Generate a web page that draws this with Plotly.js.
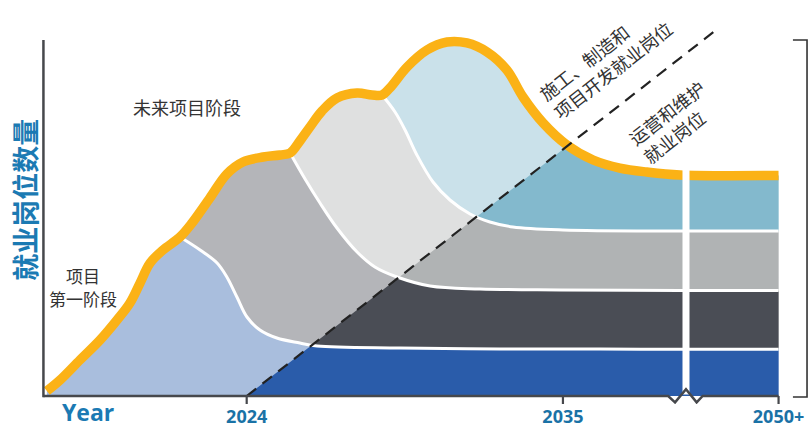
<!DOCTYPE html>
<html><head><meta charset="utf-8">
<script src="https://cdn.plot.ly/plotly-3.0.1.min.js"></script>
<style>html,body{margin:0;padding:0;background:#fff;} #chart{width:812px;height:428px;}</style>
</head><body><div id="chart"></div>
<script>
// ---- data (x = year, y = relative job count) ----
const phase1X = [2017.05,2017.51,2018.20,2018.90,2019.49,2019.94,2020.29,2020.64,2021.09,2021.68,2022.38,2022.97,2023.31,2023.66,2024.01,2024.46,2025.05,2025.85,2026.45,2029.33,2032.81,2036.29,2039.07,2042.5];
const phase1Top = [1.40,4.49,10.11,15.73,21.35,26.12,31.74,37.36,41.01,44.66,41.01,37.36,33.43,27.81,22.19,18.54,16.29,14.89,14.04,13.48,13.2,13.2,13.1,13.1];
const phase2X = [2021.68,2022.10,2022.72,2023.31,2023.87,2024.57,2025.16,2025.51,2026.03,2026.55,2027.14,2027.84,2028.46,2029.23,2030.38,2032.11,2034.90,2039.07,2042.5];
const phase2Top = [44.66,48.60,55.62,62.36,65.73,67.13,67.70,68.26,60.96,54.21,47.19,40.45,36.24,33.43,30.90,30.06,29.78,29.63,29.63];
const phase3X = [2025.51,2025.85,2026.20,2026.62,2027.14,2027.84,2028.36,2028.71,2029.16,2029.51,2029.92,2030.48,2031.07,2031.77,2032.46,2033.26,2035.00,2039.07,2042.5];
const phase3Top = [68.26,71.63,75.56,80.06,83.71,85.11,84.55,84.55,79.78,74.72,67.70,60.11,55.06,51.12,48.88,47.47,46.63,46.35,46.35];
const phase4X = [2028.71,2028.98,2029.58,2030.27,2030.97,2031.66,2032.36,2033.05,2033.61,2034.31,2035.14,2036.05,2036.98,2037.92,2039.07,2042.5];
const phase4Top = [84.55,86.52,92.42,97.19,99.44,99.16,96.63,91.57,83.99,76.69,70.51,66.29,64.04,62.92,62.08,61.94];
// dashed split between construction jobs and O&M jobs
const splitX = [2024, 2040.23];
const splitY = [0, 102.2];
// axis
const xTickVals = [2024, 2035, 2042.5];
const xTickText = ['2024', '2035', '2050+'];
const axisStartX = 2016.93;
const axisEndX = 2042.5;
const axisTopY = 100;
const breakX = [2038.66, 2038.90, 2039.28, 2039.65, 2039.86];
const breakY = [0, -1.8, 1.88, -1.8, 0];

// ---- colours ----
const lightCol = ['#a9bedd', '#b4b5b9', '#dfe0e0', '#cae1ea'];
const darkCol  = ['#2a5caa', '#4a4d55', '#b0b3b4', '#83b9cd'];
const orange = '#fbb216';
const axisCol = '#46484c';
const blueText = '#1b7ab3';

// ---- helpers ----
function diagAt(x){ return splitY[0] + (x - splitX[0]) * (splitY[1]-splitY[0]) / (splitX[1]-splitX[0]); }
function crossing(xs, ys){
  for (let i = 0; i < xs.length - 1; i++){
    if (xs[i+1] <= splitX[0]) continue;
    const d0 = ys[i] - diagAt(xs[i]), d1 = ys[i+1] - diagAt(xs[i+1]);
    if (d0 >= 0 && d1 < 0){
      const t = d0 / (d0 - d1);
      return {x: xs[i] + t*(xs[i+1]-xs[i]), y: ys[i] + t*(ys[i+1]-ys[i])};
    }
  }
  return null;
}
function sliceFrom(xs, ys, x0){
  const ox = [], oy = [];
  xs.forEach((x, i) => { if (x >= x0 - 1e-9){ ox.push(x); oy.push(ys[i]); } });
  return {x: ox, y: oy};
}
function darkPoly(lowX, lowY, upX, upY, start){
  const c = crossing(upX, upY);
  const px = [start.x, c.x], py = [start.y, c.y];
  upX.forEach((x, i) => { if (x > c.x){ px.push(x); py.push(upY[i]); } });
  for (let i = lowX.length - 1; i >= 0; i--){ if (lowX[i] > start.x){ px.push(lowX[i]); py.push(lowY[i]); } }
  px.push(start.x); py.push(start.y);
  return {x: px, y: py, c: c};
}

const baseX = [phase1X[0], phase1X[phase1X.length-1]];
const baseY = [0, 0];
const tops = [[phase1X, phase1Top], [phase2X, phase2Top], [phase3X, phase3Top], [phase4X, phase4Top]];

const traces = [];
const common = {mode: 'lines', hoverinfo: 'skip', showlegend: false};
// light (construction) fills, stacked
traces.push(Object.assign({x: baseX, y: baseY, line: {width: 0}}, common));
const helpers = [];
tops.forEach((t, i) => {
  traces.push(Object.assign({x: t[0], y: t[1], line: {width: 0, shape: 'spline'}, fill: 'tonexty', fillcolor: lightCol[i]}, common));
  if (i < 3){
    const h = sliceFrom(t[0], t[1], tops[i+1][0][0]);
    helpers.push(h);
    traces.push(Object.assign({x: h.x, y: h.y, line: {width: 0, shape: 'spline'}}, common));
  }
});
// dark (O&M) fills below the split line
let start = {x: splitX[0], y: splitY[0]};
let lowX = [splitX[0], axisEndX], lowY = [0, 0];
tops.forEach((t, i) => {
  const p = darkPoly(lowX, lowY, t[0], t[1], start);
  traces.push(Object.assign({x: p.x, y: p.y, fill: 'toself', fillcolor: darkCol[i], line: {width: 0}}, common));
  start = p.c; lowX = t[0]; lowY = t[1];
});
// white separators
helpers.forEach(h => traces.push(Object.assign({x: h.x, y: h.y, line: {width: 3, color: '#ffffff', shape: 'spline'}}, common)));
// orange envelope
const envX = [], envY = [];
tops.forEach((t, i) => {
  const limit = i < 3 ? tops[i+1][0][0] : Infinity;
  t[0].forEach((x, j) => { if (x < limit){ envX.push(x); envY.push(t[1][j]); } });
});
traces.push(Object.assign({x: envX, y: envY, line: {width: 9.5, color: orange, shape: 'spline'}}, common));
// axis break gap
traces.push(Object.assign({x: [breakX[2], breakX[2]], y: [0.4, 66], line: {width: 7, color: '#ffffff'}}, common));
// dashed split
traces.push(Object.assign({x: splitX, y: splitY, line: {width: 2.2, color: '#222222', dash: '12px,8px'}}, common));
// axes
traces.push(Object.assign({x: [axisStartX, axisStartX], y: [-0.35, axisTopY], line: {width: 2.5, color: axisCol}}, common));
traces.push(Object.assign({x: [axisStartX].concat(breakX, [axisEndX]), y: [0].concat(breakY, [0]), line: {width: 2.5, color: axisCol}}, common));
const tkx = [], tky = [];
xTickVals.forEach(v => { tkx.push(v, v, null); tky.push(0, -2.3, null); });
traces.push(Object.assign({x: tkx, y: tky, line: {width: 2.2, color: axisCol}}, common));
// bracket on right
traces.push(Object.assign({x: [2043.0, 2043.49, 2043.49, 2043.0], y: [axisTopY, axisTopY, -0.28, -0.28], line: {width: 1.6, color: '#333333'}}, common));

const cjk = 'Noto Sans CJK SC, sans-serif';
const annotations = [
  {x: 2018.31, y: 33.99, text: '项目', borderpad: 0, font: {family: cjk, size: 17, color: '#333333'}},
  {x: 2018.31, y: 27.25, text: '第一阶段', borderpad: 0, font: {family: cjk, size: 17, color: '#333333'}},
  {x: 2021.91, y: 81.18, text: '未来项目阶段', font: {family: cjk, size: 18, color: '#333333'}},
  {x: 2036.46, y: 94.38, text: '施工、制造和<br>项目开发就业岗位', textangle: -38, align: 'left', font: {family: cjk, size: 18, color: '#333333'}},
  {x: 2038.86, y: 76.97, text: '运营和维护<br>就业岗位', textangle: -38, align: 'left', font: {family: cjk, size: 18, color: '#333333'}}
].map(a => Object.assign({xref: 'x', yref: 'y', showarrow: false, xanchor: 'center', yanchor: 'middle'}, a));
annotations.push(
  {xref: 'paper', yref: 'paper', x: 0.0742, y: -0.021, text: 'Year', showarrow: false, borderpad: 0, xanchor: 'center', yanchor: 'middle',
   font: {family: 'Open Sans, sans-serif', size: 23, color: blueText, weight: 700}},
  {xref: 'paper', yref: 'paper', x: -0.0064, y: 0.532, text: '就业岗位数量', textangle: -90, showarrow: false, xanchor: 'center', yanchor: 'middle',
   font: {family: cjk, size: 27, color: blueText, weight: 700}}
);

const layout = {
  width: 812, height: 428,
  margin: {l: 30, r: 0, t: 20, b: 24},
  paper_bgcolor: '#ffffff', plot_bgcolor: '#ffffff',
  showlegend: false,
  xaxis: {range: [2016.463, 2043.663], showgrid: false, zeroline: false, showline: false, ticks: '',
          tickmode: 'array', tickvals: xTickVals, ticktext: xTickText,
          tickfont: {family: 'Open Sans, sans-serif', size: 18, color: '#1a72a6', weight: 700}, fixedrange: true},
  yaxis: {range: [-2.247, 105.618], visible: false, fixedrange: true},
  annotations: annotations
};
Plotly.newPlot('chart', traces, layout, {displayModeBar: false, staticPlot: true});
</script>
</body></html>
